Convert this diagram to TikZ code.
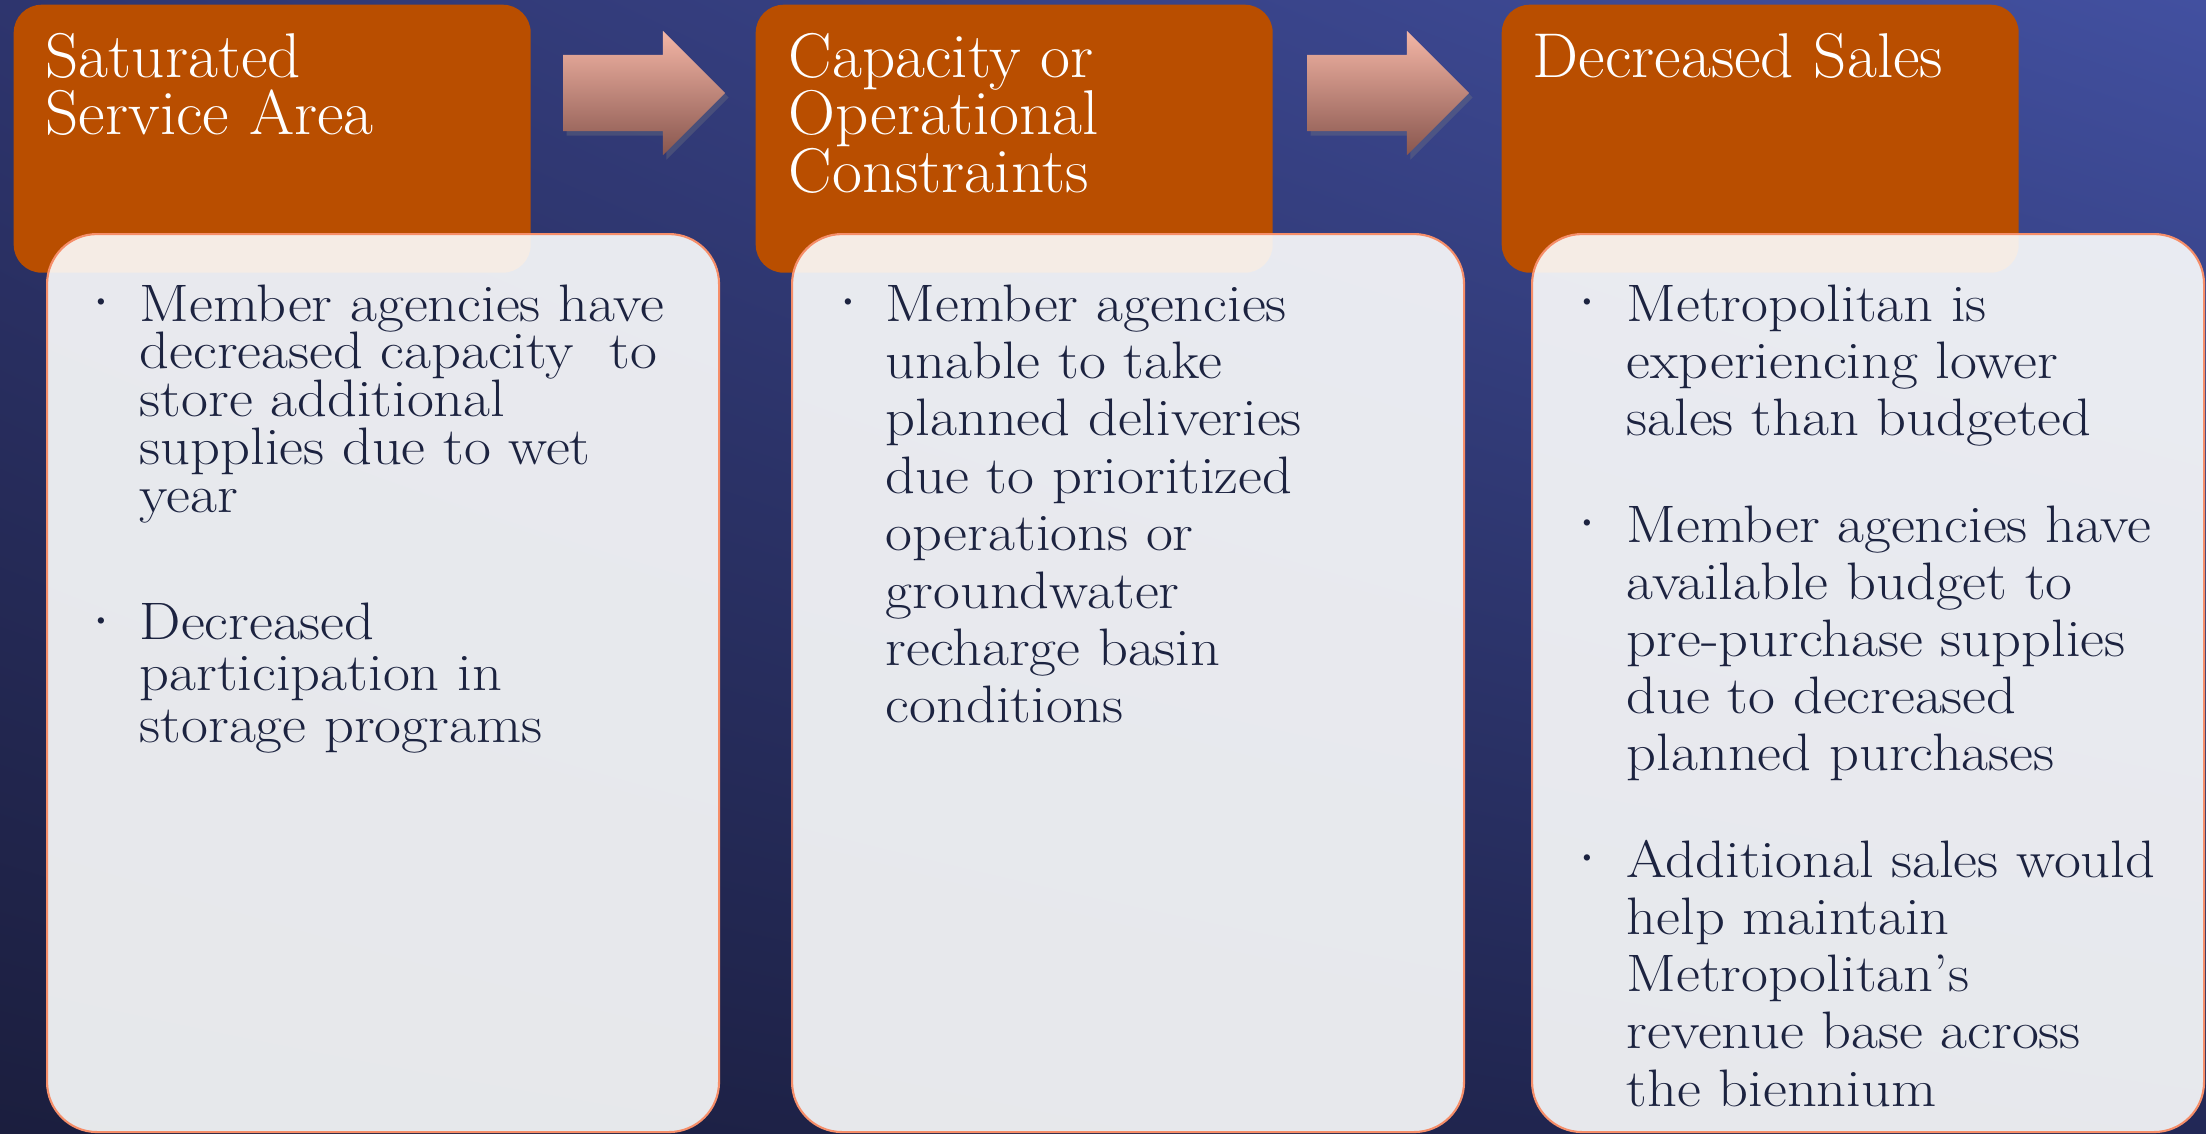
\documentclass[tikz,border=0pt]{standalone}
\usepackage{fontspec}
\newfontfamily\bodyfont{lmroman17-regular.otf}[FakeStretch=1.11]
\newfontfamily\headfont{lmroman17-regular.otf}[FakeStretch=1.03]
\usetikzlibrary{shapes.arrows,shadows,shadings}
\definecolor{orng}{RGB}{185,78,0}
\definecolor{panel}{RGB}{251,252,252}
\definecolor{edge}{RGB}{246,142,105}
\definecolor{ink}{RGB}{28,35,64}
\definecolor{artop}{RGB}{244,182,166}
\definecolor{arbot}{RGB}{136,86,78}
\definecolor{bgul}{RGB}{46,53,110}
\definecolor{bgur}{RGB}{66,80,160}
\definecolor{bgll}{RGB}{27,30,62}
\definecolor{bglr}{RGB}{34,40,86}
\begin{document}
\begin{tikzpicture}[x=0.1mm,y=-0.1mm,
  hdrbox/.style={fill=orng, draw=none, rounded corners=2.8mm, minimum width=51.7mm, minimum height=26.8mm, inner sep=0, anchor=north west},
  panelbox/.style={fill=panel, fill opacity=0.91, draw=edge, line width=0.6pt, rounded corners=5mm, minimum width=67.2mm, minimum height=89.8mm, inner sep=0, anchor=north west},
  blockarrow/.style={single arrow, single arrow head extend=2.4mm, single arrow tip angle=90, minimum height=16.2mm, inner xsep=0, inner ysep=3.75mm, top color=artop, bottom color=arbot, draw=none, drop shadow={shadow xshift=0.35mm, shadow yshift=-0.45mm, opacity=0.3}},
  hdrtxt/.style={font=\headfont\fontsize{18}{16}\selectfont, text=white, anchor=base west, inner sep=0},
  bodytxt/.style={font=\bodyfont\fontsize{15}{16}\selectfont, text=ink, anchor=base west, inner sep=0},
  bul/.style={font=\fontsize{6}{7}\selectfont, text=ink, inner sep=0, anchor=center}]
\shade[upper left=bgul, upper right=bgur, lower left=bgll, lower right=bglr] (0,0) rectangle (2206,1133);
\useasboundingbox (0,0) rectangle (2206,1133);

% header boxes
\node[hdrbox] (h1) at (13,4) {};
\node[hdrbox] (h2) at (755,4) {};
\node[hdrbox] (h3) at (1501,4) {};

% panels
\node[panelbox] (p1) at (46,233) {};
\node[panelbox] (p2) at (791,233) {};
\node[panelbox] (p3) at (1531,233) {};

% arrows
\node[blockarrow] (ar1) at (625,93) {};
\node[blockarrow] (ar2) at (1369,93) {};

% header texts
\node[hdrtxt] (t11) at (45,77) {Saturated};
\node[hdrtxt] (t12) at (45,134) {Service Area};
\node[hdrtxt] (t21) at (788,77) {Capacity or};
\node[hdrtxt] (t22) at (788,134) {Operational};
\node[hdrtxt] (t23) at (788,192) {Constraints};
\node[hdrtxt] (t31) at (1532,77) {Decreased Sales};

% bullets
\node[bul] (u11) at (101,303) {•};
\node[bul] (u12) at (101,622) {•};
\node[bul] (u21) at (848,303) {•};
\node[bul] (u31) at (1587,303) {•};
\node[bul] (u32) at (1587,524) {•};
\node[bul] (u33) at (1587,859) {•};

% panel 1
\foreach \t [count=\i] in {Member agencies have, decreased capacity~ to, store additional, supplies due to wet, year}
  \node[bodytxt] (a\i) at (139,{321+(\i-1)*47.8}) {\t};
\foreach \t [count=\i] in {Decreased, participation in, storage programs}
  \node[bodytxt] (b\i) at (139,{639+(\i-1)*51.5}) {\t};

% panel 2
\foreach \t [count=\i] in {Member agencies, unable to take, planned deliveries, due to prioritized, operations or, groundwater, recharge basin, conditions}
  \node[bodytxt] (c\i) at (885,{321+(\i-1)*57.4}) {\t};

% panel 3
\foreach \t [count=\i] in {Metropolitan is, experiencing lower, sales than budgeted}
  \node[bodytxt] (d\i) at (1626,{321+(\i-1)*57}) {\t};
\foreach \t [count=\i] in {Member agencies have, available budget to, pre-purchase supplies, due to decreased, planned purchases}
  \node[bodytxt] (e\i) at (1626,{542+(\i-1)*57}) {\t};
\foreach \t [count=\i] in {Additional sales would, help maintain, Metropolitan’s, revenue base across, the biennium}
  \node[bodytxt] (f\i) at (1626,{877+(\i-1)*57.3}) {\t};
\end{tikzpicture}
\end{document}
